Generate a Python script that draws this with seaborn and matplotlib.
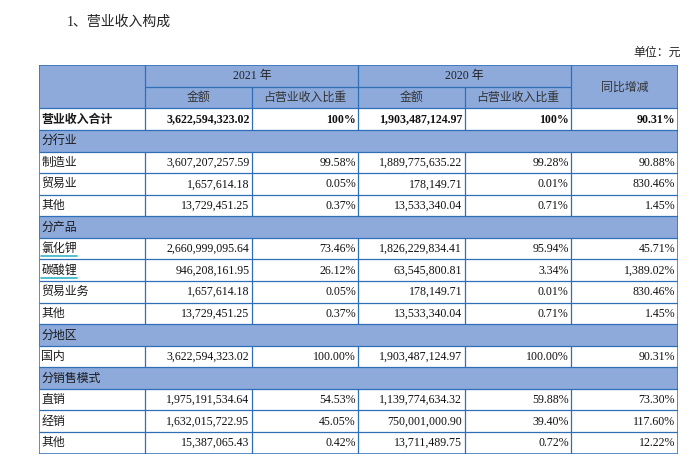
import numpy as np
import matplotlib
matplotlib.use('Agg')
import matplotlib.pyplot as plt
from matplotlib.colors import ListedColormap
import seaborn as sns

# Данные таблицы
row_labels = ['营业收入合计', '分行业', '制造业', '贸易业', '其他', '分产品', '氯化钾', '碳酸锂',
              '贸易业务', '其他', '分地区', '国内', '分销售模式', '直销', '经销', '其他']
section_rows = ['分行业', '分产品', '分地区', '分销售模式']
amount_2021 = ['3,622,594,323.02', '', '3,607,207,257.59', '1,657,614.18', '13,729,451.25', '',
               '2,660,999,095.64', '946,208,161.95', '1,657,614.18', '13,729,451.25', '',
               '3,622,594,323.02', '', '1,975,191,534.64', '1,632,015,722.95', '15,387,065.43']
share_2021 = ['100%', '', '99.58%', '0.05%', '0.37%', '', '73.46%', '26.12%', '0.05%', '0.37%', '',
              '100.00%', '', '54.53%', '45.05%', '0.42%']
amount_2020 = ['1,903,487,124.97', '', '1,889,775,635.22', '178,149.71', '13,533,340.04', '',
               '1,826,229,834.41', '63,545,800.81', '178,149.71', '13,533,340.04', '',
               '1,903,487,124.97', '', '1,139,774,634.32', '750,001,000.90', '13,711,489.75']
share_2020 = ['100%', '', '99.28%', '0.01%', '0.71%', '', '95.94%', '3.34%', '0.01%', '0.71%', '',
              '100.00%', '', '59.88%', '39.40%', '0.72%']
yoy_change = ['90.31%', '', '90.88%', '830.46%', '1.45%', '', '45.71%', '1,389.02%', '830.46%',
              '1.45%', '', '90.31%', '', '73.30%', '117.60%', '12.22%']
linked_rows = ['氯化钾', '碳酸锂']

header_years = ['2021 年', '2020 年']
header_sub = ['金额', '占营业收入比重']
header_yoy = '同比增减'

BLUE = '#8eaadb'
LINE = '#2e6fb7'
CN = ['Noto Sans CJK SC']
MIX = ['Liberation Serif', 'Noto Sans CJK SC']
FS = 8.6

sns.set_theme(style='white')

n_rows = len(row_labels) + 2
n_cols = 6
fill = np.zeros((n_rows, n_cols))
fill[0:2, :] = 1
for i, lab in enumerate(row_labels):
    if lab in section_rows:
        fill[i + 2, :] = 1

fig = plt.figure(figsize=(6.95, 4.57), dpi=100)
ax = fig.add_axes([39 / 695, 1 - 453.5 / 457, (677.5 - 39) / 695, (453.5 - 65.3) / 457])
sns.heatmap(fill, cmap=ListedColormap(['white', BLUE]), cbar=False, ax=ax,
            xticklabels=False, yticklabels=False, linewidths=0, vmin=0, vmax=1)
ax.set_xlim(0, n_cols)
ax.set_ylim(n_rows, 0)

lw = 0.9
# рамка
ax.hlines([0, n_rows], 0, n_cols, color=LINE, lw=1.1)
ax.vlines([0, n_cols], 0, n_rows, color=LINE, lw=1.1)
# шапка
ax.hlines(1, 1, 5, color=LINE, lw=lw)
ax.vlines([1, 3, 5], 0, 2, color=LINE, lw=lw)
ax.vlines([2, 4], 1, 2, color=LINE, lw=lw)
for r in range(2, n_rows):
    ax.hlines(r, 0, n_cols, color=LINE, lw=lw)
    if row_labels[r - 2] not in section_rows:
        ax.vlines([1, 2, 3, 4, 5], r, r + 1, color=LINE, lw=lw)

# текст шапки
for k, yr in enumerate(header_years):
    ax.text(1 + 2 * k + 1, 0.5, yr, ha='center', va='center', fontsize=FS, family=MIX, color='#222222')
    for j, sub in enumerate(header_sub):
        ax.text(1 + 2 * k + j + 0.5, 1.5, sub, ha='center', va='center', fontsize=FS, family=CN,
                color='#333333')
ax.text(5.5, 1.0, header_yoy, ha='center', va='center', fontsize=FS, family=CN, color='#333333')

pad = 0.022
for i, lab in enumerate(row_labels):
    y = i + 2.5
    bold = 'bold' if i == 0 else 'normal'
    ax.text(pad, y, lab, ha='left', va='center', fontsize=FS, family=CN, weight=bold, color='#1a1a1a')
    if lab in linked_rows:
        ax.plot([pad, pad + 0.335], [y + 0.34, y + 0.34], color='#34b4c6', lw=1.2)
    if lab in section_rows:
        continue
    vals = [amount_2021[i], share_2021[i], amount_2020[i], share_2020[i], yoy_change[i]]
    for j, v in enumerate(vals):
        ax.text(j + 2 - pad, y + 0.02, v, ha='right', va='center', fontsize=FS, family=MIX,
                weight=bold, color='#111111')

fig.text(67 / 695, 1 - 22 / 457, '1、营业收入构成', ha='left', va='center', fontsize=10,
         family=MIX, color='#222222')
fig.text(681 / 695, 1 - 52 / 457, '单位：元', ha='right', va='center', fontsize=8.6,
         family=CN, color='#222222')

fig.savefig('out.png', dpi=100)
